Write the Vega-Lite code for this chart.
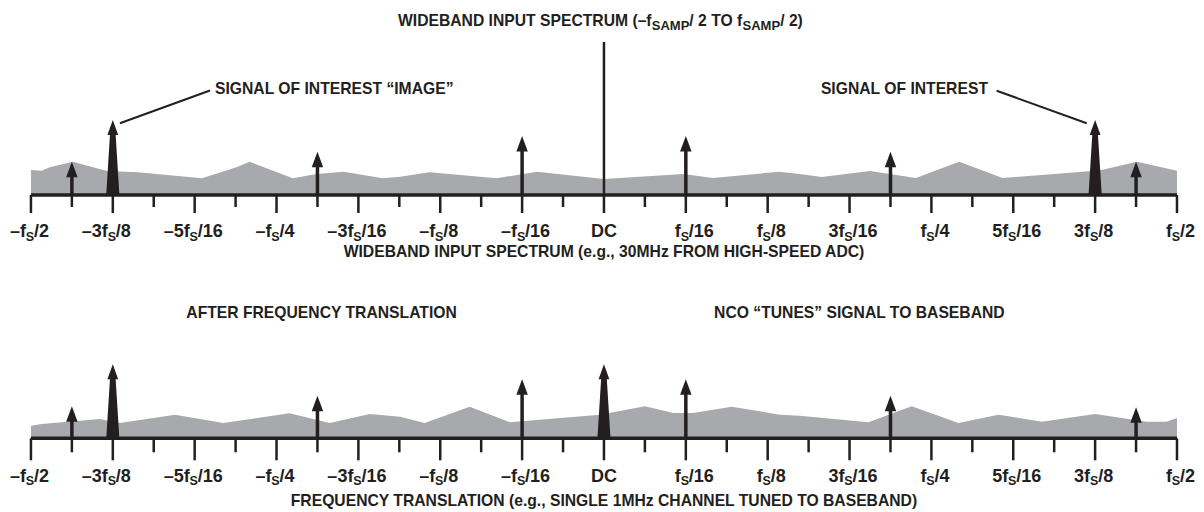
{
"$schema": "https://vega.github.io/schema/vega-lite/v6.json",
"padding": 0,
"spacing": 0,
"config": {"view": {"stroke": null}, "concat": {"spacing": 0}, "axis": {"disable": true}, "text": {"font": "Liberation Sans", "fontWeight": "bold", "color": "#231f20"}},
"datasets": {
"noiseTop": [{"u":-7.0,"v":25},{"u":-6.87,"v":24.3},{"u":-6.77,"v":27.7},{"u":-6.49,"v":33.3},{"u":-6.07,"v":24},{"u":-5.69,"v":22.7},{"u":-4.91,"v":16.7},{"u":-4.49,"v":27.7},{"u":-4.33,"v":33.3},{"u":-3.8,"v":16.7},{"u":-3.51,"v":21},{"u":-3.18,"v":23.3},{"u":-2.7,"v":16.7},{"u":-2.49,"v":18.3},{"u":-2.13,"v":22.7},{"u":-1.31,"v":16.7},{"u":-0.82,"v":23.3},{"u":0,"v":16},{"u":0.97,"v":21},{"u":1.33,"v":17},{"u":2.14,"v":23.3},{"u":2.39,"v":21},{"u":2.66,"v":18},{"u":3.25,"v":24},{"u":3.81,"v":17},{"u":4.34,"v":33.3},{"u":4.87,"v":17},{"u":5.85,"v":23.3},{"u":6.08,"v":25},{"u":6.51,"v":33.3},{"u":7.0,"v":24.3}],
"noiseBot": [{"u":-7.0,"v":12.6},{"u":-6.87,"v":14.3},{"u":-6.16,"v":19.3},{"u":-5.91,"v":15.3},{"u":-5.24,"v":23.6},{"u":-4.65,"v":15.3},{"u":-3.84,"v":25},{"u":-3.35,"v":15.3},{"u":-2.86,"v":24.3},{"u":-2.49,"v":21.6},{"u":-2.19,"v":15.3},{"u":-1.64,"v":31.6},{"u":-1.15,"v":16},{"u":-0.05,"v":23.6},{"u":0.5,"v":32},{"u":0.85,"v":25.3},{"u":1.09,"v":25.3},{"u":1.56,"v":31.6},{"u":2.15,"v":23.6},{"u":2.39,"v":22.6},{"u":3.23,"v":16},{"u":3.76,"v":32},{"u":4.33,"v":15.3},{"u":4.82,"v":23.6},{"u":5.35,"v":16.6},{"u":6.0,"v":24.3},{"u":6.63,"v":16.6},{"u":6.87,"v":16.6},{"u":7.0,"v":20.3}],
"axisLine": [{"u":-7,"u2":7,"v":0}],
"ticks": [{"u":-7,"kind":"major"},{"u":-6,"kind":"major"},{"u":-5,"kind":"major"},{"u":-4,"kind":"major"},{"u":-3,"kind":"major"},{"u":-2,"kind":"major"},{"u":-1,"kind":"major"},{"u":0,"kind":"major"},{"u":1,"kind":"major"},{"u":2,"kind":"major"},{"u":3,"kind":"major"},{"u":4,"kind":"major"},{"u":5,"kind":"major"},{"u":6,"kind":"major"},{"u":7,"kind":"major"},
{"u":-6.5,"kind":"minor"},{"u":-5.5,"kind":"minor"},{"u":-4.5,"kind":"minor"},{"u":-3.5,"kind":"minor"},{"u":-2.5,"kind":"minor"},{"u":-1.5,"kind":"minor"},{"u":-0.5,"kind":"minor"},{"u":0.5,"kind":"minor"},{"u":1.5,"kind":"minor"},{"u":2.5,"kind":"minor"},{"u":3.5,"kind":"minor"},{"u":4.5,"kind":"minor"},{"u":5.5,"kind":"minor"},{"u":6.5,"kind":"minor"}],
"labels": [{"u":-7,"pre":"–f","sub":"S","post":"/2"},{"u":-6,"pre":"–3f","sub":"S","post":"/8"},{"u":-5,"pre":"–5f","sub":"S","post":"/16"},{"u":-4,"pre":"–f","sub":"S","post":"/4"},{"u":-3,"pre":"–3f","sub":"S","post":"/16"},{"u":-2,"pre":"–f","sub":"S","post":"/8"},{"u":-1,"pre":"–f","sub":"S","post":"/16"},{"u":1,"pre":"f","sub":"S","post":"/16"},{"u":2,"pre":"f","sub":"S","post":"/8"},{"u":3,"pre":"3f","sub":"S","post":"/16"},{"u":4,"pre":"f","sub":"S","post":"/4"},{"u":5,"pre":"5f","sub":"S","post":"/16"},{"u":6,"pre":"3f","sub":"S","post":"/8"},{"u":7,"pre":"f","sub":"S","post":"/2"}],
"dc": [{"u":0,"t":"DC"}],
"arrowsTop": [{"u":-6.5,"h":33.3,"base":0,"kind":"small"},{"u":-3.5,"h":43.3,"base":0,"kind":"small"},{"u":-1,"h":59,"base":0,"kind":"small"},{"u":1,"h":59,"base":0,"kind":"small"},{"u":3.5,"h":43.3,"base":0,"kind":"small"},{"u":6.5,"h":33.3,"base":0,"kind":"small"},{"u":-6,"h":75,"base":0,"kind":"big"},{"u":6,"h":75,"base":0,"kind":"big"}],
"arrowsBot": [{"u":-6.5,"h":32,"base":0,"kind":"small"},{"u":-3.5,"h":42.6,"base":0,"kind":"small"},{"u":-1,"h":59,"base":0,"kind":"small"},{"u":1,"h":59,"base":0,"kind":"small"},{"u":3.5,"h":42.6,"base":0,"kind":"small"},{"u":6.5,"h":31,"base":0,"kind":"small"},{"u":-6,"h":74,"base":0,"kind":"big"},{"u":0,"h":74,"base":0,"kind":"big"}],
"dcLine": [{"u":0,"h":153,"base":0}],
"leaders": [{"u":-5.913,"v":71.7,"u2":-4.813,"v2":104.5},{"u":4.797,"v":104.3,"u2":5.897,"v2":71.7}],
"notesTopLeft": [{"u":-4.752,"v":106.5,"t":"SIGNAL OF INTEREST “IMAGE”"}],
"notesTopRight": [{"u":4.691,"v":106.5,"t":"SIGNAL OF INTEREST"}],
"titleMain": [{"u":-2.5165,"v":174.5,"t":"WIDEBAND INPUT SPECTRUM (–f"},{"u":1.0432,"v":174.5,"t":"/ 2 TO f"},{"u":2.1525,"v":174.5,"t":"/ 2)"}],
"titleSub": [{"u":0.5839,"v":174.5,"t":"SAMP"},{"u":1.6931,"v":174.5,"t":"SAMP"}],
"axisTitleTop": [{"u":0,"v":-56.5,"t":"WIDEBAND INPUT SPECTRUM (e.g., 30MHz FROM HIGH-SPEED ADC)"}],
"notesBot": [{"u":-3.45,"v":125,"t":"AFTER FREQUENCY TRANSLATION"},{"u":3.12,"v":125,"t":"NCO “TUNES” SIGNAL TO BASEBAND"},{"u":0,"v":-62.4,"t":"FREQUENCY TRANSLATION (e.g., SINGLE 1MHz CHANNEL TUNED TO BASEBAND)"}]
},
"vconcat": [
{
"width": 1204, "height": 256,
"layer": [
{"data":{"name":"noiseTop"},"mark":{"type":"area","color":"#a7a9ac"},
 "encoding":{"x":{"field":"u","type":"quantitative","scale":{"domain":[-7.378,7.33],"nice":false,"zero":false},"axis":null},
 "y":{"field":"v","type":"quantitative","scale":{"domain":[-61,195],"nice":false,"zero":false},"axis":null}}},
{"data":{"name":"axisLine"},"mark":{"type":"rule","color":"#231f20","strokeWidth":3.5},
 "encoding":{"x":{"field":"u","type":"quantitative","axis":null},"x2":{"field":"u2"},"y":{"field":"v","type":"quantitative","axis":null}}},
{"data":{"name":"ticks"},"transform":[{"filter":"datum.kind == 'major'"}],"mark":{"type":"tick","orient":"vertical","color":"#231f20","thickness":2.5,"size":18,"opacity":1},
 "encoding":{"x":{"field":"u","type":"quantitative","axis":null},"y":{"datum":-9,"type":"quantitative","axis":null}}},
{"data":{"name":"ticks"},"transform":[{"filter":"datum.kind == 'minor'"}],"mark":{"type":"tick","orient":"vertical","color":"#231f20","thickness":2.5,"size":12,"opacity":1},
 "encoding":{"x":{"field":"u","type":"quantitative","axis":null},"y":{"datum":-6,"type":"quantitative","axis":null}}},
{"data":{"name":"dcLine"},"mark":{"type":"rule","color":"#231f20","strokeWidth":2.5},
 "encoding":{"x":{"field":"u","type":"quantitative","axis":null},"y":{"field":"h","type":"quantitative","axis":null},"y2":{"field":"base"}}},
{"data":{"name":"arrowsTop"},"transform":[{"filter":"datum.kind == 'small'"}],"mark":{"type":"rule","color":"#231f20","strokeWidth":3.5,"yOffset":12},
 "encoding":{"x":{"field":"u","type":"quantitative","axis":null},"y":{"field":"h","type":"quantitative","axis":null},"y2":{"field":"base"}}},
{"data":{"name":"arrowsTop"},"transform":[{"filter":"datum.kind == 'small'"}],"mark":{"type":"point","shape":"M0,0 L0.37,1 L-0.37,1 Z","filled":true,"size":960,"color":"#231f20","opacity":1,"strokeWidth":0},
 "encoding":{"x":{"field":"u","type":"quantitative","axis":null},"y":{"field":"h","type":"quantitative","axis":null}}},
{"data":{"name":"arrowsTop"},"transform":[{"filter":"datum.kind == 'big'"}],"mark":{"type":"point","shape":"M0,0 L0.36,1 L0.19,1 L0.44,5 L-0.44,5 L-0.19,1 L-0.36,1 Z","filled":true,"size":900,"color":"#231f20","opacity":1,"strokeWidth":0},
 "encoding":{"x":{"field":"u","type":"quantitative","axis":null},"y":{"field":"h","type":"quantitative","axis":null}}},
{"data":{"name":"leaders"},"mark":{"type":"rule","color":"#231f20","strokeWidth":2},
 "encoding":{"x":{"field":"u","type":"quantitative","axis":null},"y":{"field":"v","type":"quantitative","axis":null},"x2":{"field":"u2"},"y2":{"field":"v2"}}},
{"data":{"name":"notesTopLeft"},"mark":{"type":"text","align":"left","baseline":"middle","fontSize":15.7},
 "encoding":{"x":{"field":"u","type":"quantitative","axis":null},"y":{"field":"v","type":"quantitative","axis":null},"text":{"field":"t","type":"nominal"}}},
{"data":{"name":"notesTopRight"},"mark":{"type":"text","align":"right","baseline":"middle","fontSize":15.7},
 "encoding":{"x":{"field":"u","type":"quantitative","axis":null},"y":{"field":"v","type":"quantitative","axis":null},"text":{"field":"t","type":"nominal"}}},
{"data":{"name":"titleMain"},"mark":{"type":"text","align":"left","baseline":"middle","fontSize":15.7},
 "encoding":{"x":{"field":"u","type":"quantitative","axis":null},"y":{"field":"v","type":"quantitative","axis":null},"text":{"field":"t","type":"nominal"}}},
{"data":{"name":"titleSub"},"mark":{"type":"text","align":"left","baseline":"middle","fontSize":13,"dy":5},
 "encoding":{"x":{"field":"u","type":"quantitative","axis":null},"y":{"field":"v","type":"quantitative","axis":null},"text":{"field":"t","type":"nominal"}}},
{"data":{"name":"axisTitleTop"},"mark":{"type":"text","align":"center","baseline":"middle","fontSize":15.7},
 "encoding":{"x":{"field":"u","type":"quantitative","axis":null},"y":{"field":"v","type":"quantitative","axis":null},"text":{"field":"t","type":"nominal"}}},
{"data":{"name":"labels"},"mark":{"type":"text","align":"right","baseline":"alphabetic","fontSize":18,"dx":-5},
 "encoding":{"x":{"field":"u","type":"quantitative","axis":null},"y":{"datum":-42,"type":"quantitative","axis":null},"text":{"field":"pre","type":"nominal"}}},
{"data":{"name":"labels"},"mark":{"type":"text","align":"center","baseline":"alphabetic","fontSize":12.5,"dx":-1,"dy":3.5},
 "encoding":{"x":{"field":"u","type":"quantitative","axis":null},"y":{"datum":-42,"type":"quantitative","axis":null},"text":{"field":"sub","type":"nominal"}}},
{"data":{"name":"labels"},"mark":{"type":"text","align":"left","baseline":"alphabetic","fontSize":18,"dx":3},
 "encoding":{"x":{"field":"u","type":"quantitative","axis":null},"y":{"datum":-42,"type":"quantitative","axis":null},"text":{"field":"post","type":"nominal"}}},
{"data":{"name":"dc"},"mark":{"type":"text","align":"center","baseline":"alphabetic","fontSize":18},
 "encoding":{"x":{"field":"u","type":"quantitative","axis":null},"y":{"datum":-42,"type":"quantitative","axis":null},"text":{"field":"t","type":"nominal"}}}
]
},
{
"width": 1204, "height": 256,
"layer": [
{"data":{"name":"noiseBot"},"mark":{"type":"area","color":"#a7a9ac"},
 "encoding":{"x":{"field":"u","type":"quantitative","scale":{"domain":[-7.378,7.33],"nice":false,"zero":false},"axis":null},
 "y":{"field":"v","type":"quantitative","scale":{"domain":[-77.7,178.3],"nice":false,"zero":false},"axis":null}}},
{"data":{"name":"axisLine"},"mark":{"type":"rule","color":"#231f20","strokeWidth":3.5},
 "encoding":{"x":{"field":"u","type":"quantitative","axis":null},"x2":{"field":"u2"},"y":{"field":"v","type":"quantitative","axis":null}}},
{"data":{"name":"ticks"},"transform":[{"filter":"datum.kind == 'major'"}],"mark":{"type":"tick","orient":"vertical","color":"#231f20","thickness":2.5,"size":22,"opacity":1},
 "encoding":{"x":{"field":"u","type":"quantitative","axis":null},"y":{"datum":-11,"type":"quantitative","axis":null}}},
{"data":{"name":"ticks"},"transform":[{"filter":"datum.kind == 'minor'"}],"mark":{"type":"tick","orient":"vertical","color":"#231f20","thickness":2.5,"size":14,"opacity":1},
 "encoding":{"x":{"field":"u","type":"quantitative","axis":null},"y":{"datum":-7,"type":"quantitative","axis":null}}},
{"data":{"name":"arrowsBot"},"transform":[{"filter":"datum.kind == 'small'"}],"mark":{"type":"rule","color":"#231f20","strokeWidth":3.5,"yOffset":12},
 "encoding":{"x":{"field":"u","type":"quantitative","axis":null},"y":{"field":"h","type":"quantitative","axis":null},"y2":{"field":"base"}}},
{"data":{"name":"arrowsBot"},"transform":[{"filter":"datum.kind == 'small'"}],"mark":{"type":"point","shape":"M0,0 L0.37,1 L-0.37,1 Z","filled":true,"size":960,"color":"#231f20","opacity":1,"strokeWidth":0},
 "encoding":{"x":{"field":"u","type":"quantitative","axis":null},"y":{"field":"h","type":"quantitative","axis":null}}},
{"data":{"name":"arrowsBot"},"transform":[{"filter":"datum.kind == 'big'"}],"mark":{"type":"point","shape":"M0,0 L0.36,1 L0.19,1 L0.44,5 L-0.44,5 L-0.19,1 L-0.36,1 Z","filled":true,"size":900,"color":"#231f20","opacity":1,"strokeWidth":0},
 "encoding":{"x":{"field":"u","type":"quantitative","axis":null},"y":{"field":"h","type":"quantitative","axis":null}}},
{"data":{"name":"notesBot"},"mark":{"type":"text","align":"center","baseline":"middle","fontSize":15.7},
 "encoding":{"x":{"field":"u","type":"quantitative","axis":null},"y":{"field":"v","type":"quantitative","axis":null},"text":{"field":"t","type":"nominal"}}},
{"data":{"name":"labels"},"mark":{"type":"text","align":"right","baseline":"alphabetic","fontSize":18,"dx":-5},
 "encoding":{"x":{"field":"u","type":"quantitative","axis":null},"y":{"datum":-43.5,"type":"quantitative","axis":null},"text":{"field":"pre","type":"nominal"}}},
{"data":{"name":"labels"},"mark":{"type":"text","align":"center","baseline":"alphabetic","fontSize":12.5,"dx":-1,"dy":3.5},
 "encoding":{"x":{"field":"u","type":"quantitative","axis":null},"y":{"datum":-43.5,"type":"quantitative","axis":null},"text":{"field":"sub","type":"nominal"}}},
{"data":{"name":"labels"},"mark":{"type":"text","align":"left","baseline":"alphabetic","fontSize":18,"dx":3},
 "encoding":{"x":{"field":"u","type":"quantitative","axis":null},"y":{"datum":-43.5,"type":"quantitative","axis":null},"text":{"field":"post","type":"nominal"}}},
{"data":{"name":"dc"},"mark":{"type":"text","align":"center","baseline":"alphabetic","fontSize":18},
 "encoding":{"x":{"field":"u","type":"quantitative","axis":null},"y":{"datum":-43.5,"type":"quantitative","axis":null},"text":{"field":"t","type":"nominal"}}}
]
}
]
}
